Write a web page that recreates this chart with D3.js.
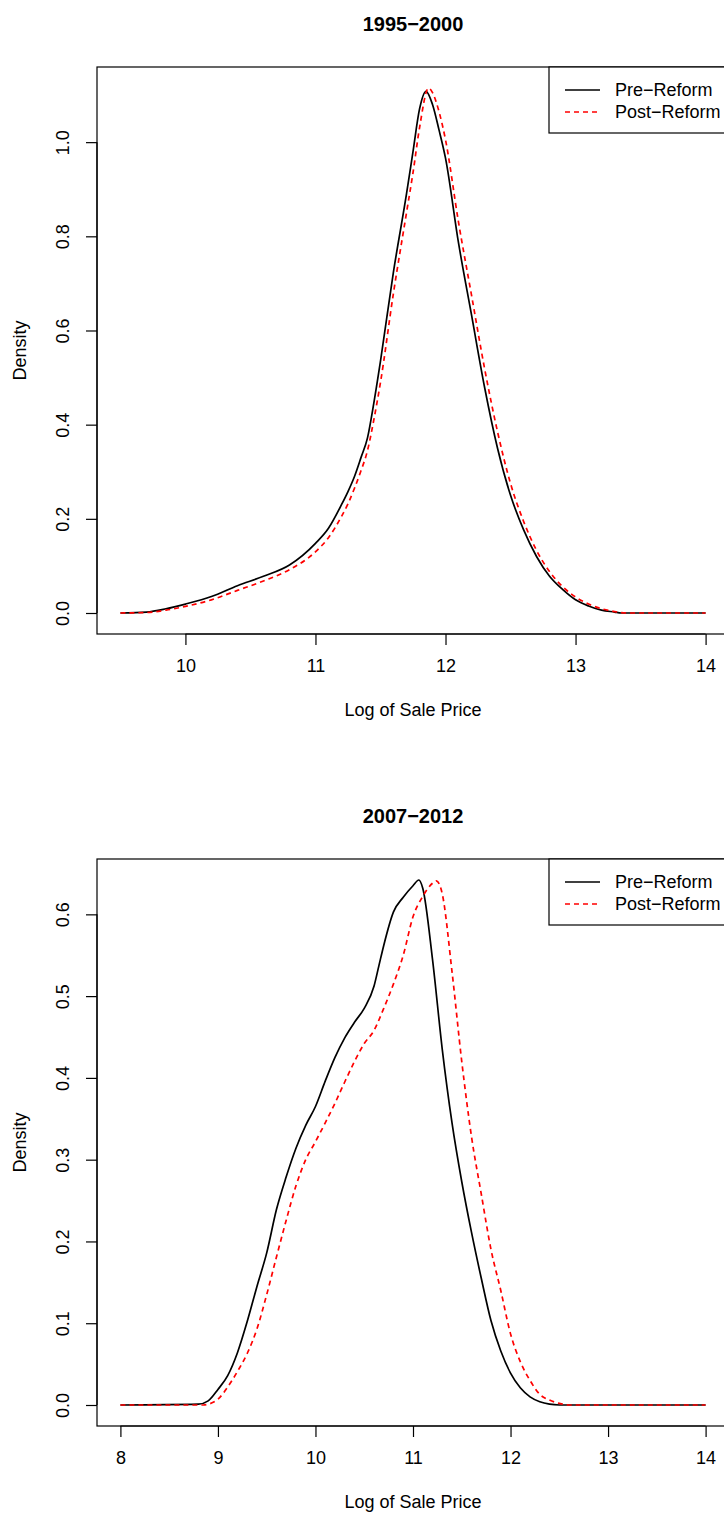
<!DOCTYPE html>
<html>
<head>
<meta charset="utf-8">
<script src="https://cdn.jsdelivr.net/npm/d3@7/dist/d3.min.js"></script>
<style>
  html, body { margin: 0; padding: 0; background: #fff; }
  svg { display: block; font-family: "Liberation Sans", Arial, Helvetica, sans-serif; }
</style>
</head>
<body>
<svg id="chart" width="724" height="1515"></svg>
<script>
// ---------- Data ----------
const seriesNames = ["Pre\u2212Reform", "Post\u2212Reform"];

// Panel 1: 1995-2000
const p1Title = "1995\u22122000";
const p1PreX  = [9.5, 9.7, 9.85, 10.0, 10.2, 10.4, 10.6, 10.8, 11.0, 11.1, 11.2, 11.25, 11.3, 11.35, 11.4, 11.45, 11.5, 11.6, 11.7, 11.75, 11.8, 11.85, 11.9, 11.95, 12.0, 12.1, 12.2, 12.3, 12.4, 12.5, 12.6, 12.7, 12.8, 12.9, 13.0, 13.1, 13.2, 13.3, 13.35, 14.0];
const p1PreY  = [0, 0.002, 0.009, 0.019, 0.035, 0.058, 0.078, 0.102, 0.148, 0.18, 0.23, 0.258, 0.29, 0.33, 0.372, 0.448, 0.535, 0.725, 0.89, 0.98, 1.07, 1.108, 1.08, 1.026, 0.966, 0.786, 0.633, 0.48, 0.35, 0.25, 0.177, 0.12, 0.078, 0.05, 0.028, 0.015, 0.006, 0.002, 0, 0];
const p1PostX = [9.5, 9.7, 9.85, 10.0, 10.2, 10.4, 10.6, 10.8, 11.0, 11.1, 11.2, 11.25, 11.3, 11.35, 11.4, 11.45, 11.5, 11.6, 11.7, 11.75, 11.8, 11.87, 11.9, 11.95, 12.0, 12.1, 12.2, 12.3, 12.4, 12.5, 12.6, 12.7, 12.8, 12.9, 13.0, 13.1, 13.2, 13.3, 13.4, 14.0];
const p1PostY = [0, 0.001, 0.006, 0.014, 0.028, 0.048, 0.068, 0.092, 0.13, 0.16, 0.205, 0.232, 0.265, 0.302, 0.345, 0.412, 0.49, 0.68, 0.85, 0.935, 1.03, 1.115, 1.105, 1.065, 1.005, 0.83, 0.675, 0.52, 0.385, 0.275, 0.195, 0.133, 0.088, 0.056, 0.034, 0.019, 0.009, 0.003, 0, 0];
const p1XTicks = [10, 11, 12, 13, 14];
const p1YTicks = [0.0, 0.2, 0.4, 0.6, 0.8, 1.0];

// Panel 2: 2007-2012
const p2Title = "2007\u22122012";
const p2PreX  = [8.0, 8.8, 8.9, 9.0, 9.1, 9.2, 9.3, 9.4, 9.5, 9.6, 9.7, 9.8, 9.9, 10.0, 10.1, 10.2, 10.3, 10.4, 10.5, 10.6, 10.65, 10.7, 10.8, 10.9, 11.0, 11.06, 11.1, 11.2, 11.3, 11.4, 11.5, 11.6, 11.7, 11.8, 11.9, 12.0, 12.1, 12.2, 12.3, 12.4, 12.5, 14.0];
const p2PreY  = [0, 0.001, 0.005, 0.019, 0.036, 0.064, 0.102, 0.145, 0.186, 0.239, 0.279, 0.314, 0.342, 0.365, 0.396, 0.425, 0.449, 0.468, 0.485, 0.512, 0.537, 0.562, 0.603, 0.621, 0.635, 0.642, 0.632, 0.545, 0.435, 0.345, 0.273, 0.211, 0.155, 0.103, 0.066, 0.039, 0.021, 0.01, 0.004, 0.001, 0, 0];
const p2PostX = [8.0, 8.85, 8.9, 9.0, 9.1, 9.2, 9.3, 9.4, 9.5, 9.6, 9.7, 9.8, 9.9, 10.0, 10.1, 10.2, 10.3, 10.4, 10.5, 10.6, 10.7, 10.8, 10.9, 11.0, 11.1, 11.2, 11.24, 11.3, 11.4, 11.5, 11.6, 11.7, 11.8, 11.9, 12.0, 12.1, 12.2, 12.3, 12.4, 12.5, 12.6, 14.0];
const p2PostY = [0, 0, 0.001, 0.007, 0.022, 0.041, 0.063, 0.093, 0.135, 0.181, 0.226, 0.268, 0.3, 0.322, 0.345, 0.369, 0.395, 0.42, 0.442, 0.458, 0.485, 0.515, 0.55, 0.597, 0.622, 0.638, 0.641, 0.625, 0.53, 0.42, 0.328, 0.258, 0.19, 0.14, 0.087, 0.053, 0.03, 0.013, 0.006, 0.002, 0, 0];
const p2XTicks = [8, 9, 10, 11, 12, 13, 14];
const p2YTicks = [0.0, 0.1, 0.2, 0.3, 0.4, 0.5, 0.6];

const xLabel = "Log of Sale Price";
const yLabel = "Density";

// ---------- Drawing ----------
const svg = d3.select("#chart");
const FONT = 18;

function zip(xs, ys) { return xs.map((x, i) => ({ x: x, y: ys[i] })); }

function drawPanel(opt) {
  const L = 97, R = 729, T = opt.top, B = opt.top + 567;
  const pre = zip(opt.preX, opt.preY), post = zip(opt.postX, opt.postY);
  const all = pre.concat(post);
  const xe = d3.extent(all, d => d.x), ye = d3.extent(all, d => d.y);
  const xp = (xe[1] - xe[0]) * 0.04, yp = (ye[1] - ye[0]) * 0.04;
  const x = d3.scaleLinear().domain([xe[0] - xp, xe[1] + xp]).range([L, R]);
  const y = d3.scaleLinear().domain([ye[0] - yp, ye[1] + yp]).range([B, T]);
  const g = svg.append("g");

  // title
  g.append("text").attr("x", (L + R) / 2).attr("y", T - 43)
    .attr("text-anchor", "middle").attr("dominant-baseline", "central")
    .attr("font-weight", "bold").attr("font-size", 20).text(opt.title);

  // curves
  const line = d3.line().x(d => x(d.x)).y(d => y(d.y)).curve(d3.curveMonotoneX);
  g.append("path").datum(pre).attr("d", line)
    .attr("fill", "none").attr("stroke", "#000").attr("stroke-width", 1.7);
  g.append("path").datum(post).attr("d", line)
    .attr("fill", "none").attr("stroke", "#ff0000").attr("stroke-width", 1.7)
    .attr("stroke-dasharray", "5,4");

  // box
  g.append("rect").attr("x", L).attr("y", T).attr("width", R - L).attr("height", B - T)
    .attr("fill", "none").attr("stroke", "#000").attr("stroke-width", 1.2);

  // x axis
  const xa = g.append("g").attr("transform", `translate(0,${B})`)
    .call(d3.axisBottom(x).tickValues(opt.xTicks).tickFormat(d3.format("d")).tickSizeInner(11).tickSizeOuter(0).tickPadding(0));
  xa.select(".domain").attr("stroke-width", 1.2)
    .attr("d", `M${x(opt.xTicks[0])},0H${x(opt.xTicks[opt.xTicks.length - 1])}`);
  xa.selectAll(".tick line").attr("stroke-width", 1.2);
  xa.selectAll(".tick text").attr("font-size", FONT).attr("font-family", null)
    .attr("y", 32).attr("dy", null).attr("dominant-baseline", "central").attr("fill", "#000");

  // y axis
  const ya = g.append("g").attr("transform", `translate(${L},0)`)
    .call(d3.axisLeft(y).tickValues(opt.yTicks).tickFormat(d3.format(".1f")).tickSizeInner(11).tickSizeOuter(0));
  ya.select(".domain").attr("stroke-width", 1.2)
    .attr("d", `M0,${y(opt.yTicks[0])}V${y(opt.yTicks[opt.yTicks.length - 1])}`);
  ya.selectAll(".tick line").attr("stroke-width", 1.2);
  ya.selectAll(".tick text").attr("font-size", FONT).attr("font-family", null)
    .attr("x", null).attr("dy", null).attr("text-anchor", "middle")
    .attr("dominant-baseline", "central").attr("fill", "#000")
    .attr("transform", "translate(-34,0) rotate(-90)");

  // axis titles
  g.append("text").attr("x", (L + R) / 2).attr("y", B + 76)
    .attr("text-anchor", "middle").attr("dominant-baseline", "central")
    .attr("font-size", FONT).text(xLabel);
  g.append("text").attr("transform", `translate(20,${(T + B) / 2}) rotate(-90)`)
    .attr("text-anchor", "middle").attr("dominant-baseline", "central")
    .attr("font-size", FONT).text(yLabel);

  // legend
  const lg = g.append("g");
  lg.append("rect").attr("x", 549).attr("y", T).attr("width", 200).attr("height", 66)
    .attr("fill", "#fff").attr("stroke", "#000").attr("stroke-width", 1.2);
  const styles = [{ c: "#000", dash: null }, { c: "#ff0000", dash: "5,4" }];
  seriesNames.forEach((name, i) => {
    const yy = T + 23 + i * 22;
    lg.append("line").attr("x1", 565).attr("x2", 600).attr("y1", yy).attr("y2", yy)
      .attr("stroke", styles[i].c).attr("stroke-width", 1.7)
      .attr("stroke-dasharray", styles[i].dash);
    lg.append("text").attr("x", 615).attr("y", yy).attr("dominant-baseline", "central")
      .attr("font-size", FONT).text(name);
  });
}

drawPanel({ top: 67, title: p1Title, preX: p1PreX, preY: p1PreY, postX: p1PostX, postY: p1PostY, xTicks: p1XTicks, yTicks: p1YTicks });
drawPanel({ top: 859, title: p2Title, preX: p2PreX, preY: p2PreY, postX: p2PostX, postY: p2PostY, xTicks: p2XTicks, yTicks: p2YTicks });
</script>
</body>
</html>
